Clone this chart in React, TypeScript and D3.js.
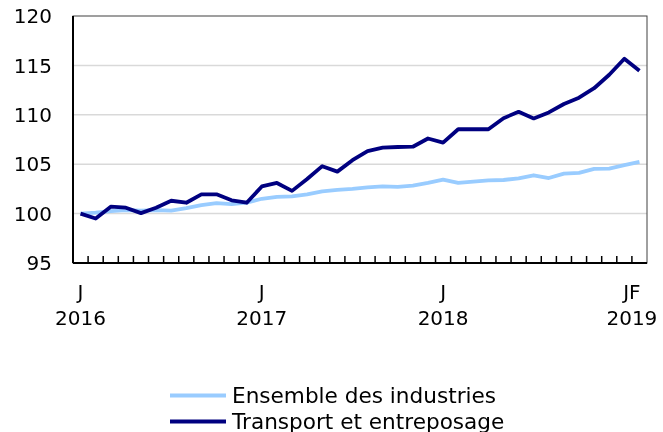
import * as d3 from "d3"
import { useEffect, useRef } from "react"

// monthly index, Jan 2016 = 100
const months = d3.range(38).map(i => `${2016 + Math.floor(i / 12)}-${(i % 12) + 1}`)

const ensemble = [
  100.0, 100.1, 100.25, 100.35, 100.3, 100.35, 100.3, 100.55, 100.85, 101.05,
  100.95, 101.1, 101.5, 101.7, 101.75, 101.95, 102.25, 102.4, 102.5, 102.65,
  102.76, 102.7, 102.83, 103.1, 103.44, 103.1, 103.23, 103.37, 103.4, 103.57,
  103.88, 103.6, 104.05, 104.12, 104.53, 104.56, 104.9, 105.24,
]

const transport = [
  100.0, 99.5, 100.7, 100.6, 100.05, 100.6, 101.3, 101.1, 101.95, 101.95,
  101.35, 101.1, 102.75, 103.1, 102.3, 103.5, 104.8, 104.25, 105.4, 106.33,
  106.67, 106.74, 106.77, 107.6, 107.18, 108.54, 108.54, 108.54, 109.66, 110.3,
  109.63, 110.24, 111.09, 111.73, 112.69, 114.05, 115.68, 114.46,
]

const yTicks = [95, 100, 105, 110, 115, 120]

const xLabels = [
  { from: 0, to: 0, top: "J", bottom: "2016" },
  { from: 12, to: 12, top: "J", bottom: "2017" },
  { from: 24, to: 24, top: "J", bottom: "2018" },
  { from: 36, to: 37, top: "JF", bottom: "2019" },
]

const series = [
  { name: "Ensemble des industries", values: ensemble, color: "#99ccff" },
  { name: "Transport et entreposage", values: transport, color: "#000080" },
]

export default function App() {
  const ref = useRef<SVGSVGElement>(null)

  useEffect(() => {
    const svg = d3.select(ref.current)
    svg.selectAll("*").remove()

    const margin = { top: 16, right: 16, bottom: 169, left: 73 }
    const width = 663 - margin.left - margin.right
    const height = 432 - margin.top - margin.bottom
    const font = "'DejaVu Sans', Verdana, sans-serif"
    const fs = 20

    const x = d3.scaleBand<string>().domain(months).range([0, width]).padding(0)
    const y = d3.scaleLinear().domain([95, 120]).range([height, 0])

    const g = svg.append("g").attr("transform", `translate(${margin.left},${margin.top})`)

    // grid
    g.selectAll(".grid").data(yTicks.filter(t => t !== 95 && t !== 120))
      .enter().append("line")
      .attr("x1", 0).attr("x2", width)
      .attr("y1", d => y(d)).attr("y2", d => y(d))
      .attr("stroke", "#d9d9d9").attr("stroke-width", 1.5)

    // frame
    g.append("rect")
      .attr("width", width).attr("height", height)
      .attr("fill", "none").attr("stroke", "#404040").attr("stroke-width", 1)

    // y labels
    g.selectAll(".ylab").data(yTicks)
      .enter().append("text")
      .attr("x", -21).attr("y", d => y(d)).attr("dy", "0.36em")
      .attr("text-anchor", "end")
      .attr("font-family", font).attr("font-size", fs)
      .text(d => d)

    // month ticks, pointing inside
    g.selectAll(".xtick").data(d3.range(1, months.length))
      .enter().append("line")
      .attr("x1", d => x(months[d])!).attr("x2", d => x(months[d])!)
      .attr("y1", height).attr("y2", height - 7)
      .attr("stroke", "#000").attr("stroke-width", 1.5)

    // axes
    g.append("line").attr("x1", 0).attr("x2", 0).attr("y1", 0).attr("y2", height)
      .attr("stroke", "#000").attr("stroke-width", 2)
    g.append("line").attr("x1", 0).attr("x2", width).attr("y1", height).attr("y2", height)
      .attr("stroke", "#000").attr("stroke-width", 2)

    // x labels
    const lab = g.selectAll(".xlab").data(xLabels).enter().append("g")
      .attr("transform", d => {
        const cx = (x(months[d.from])! + x(months[d.to])! + x.bandwidth()) / 2
        return `translate(${cx},${height})`
      })
    lab.append("text").attr("y", 36).attr("text-anchor", "middle")
      .attr("font-family", font).attr("font-size", fs).text(d => d.top)
    lab.append("text").attr("y", 62).attr("text-anchor", "middle")
      .attr("font-family", font).attr("font-size", fs).text(d => d.bottom)

    const line = d3.line<number>()
      .x((d, i) => x(months[i])! + x.bandwidth() / 2)
      .y(d => y(d))

    series.forEach(s => {
      g.append("path").datum(s.values)
        .attr("d", line)
        .attr("fill", "none")
        .attr("stroke", s.color)
        .attr("stroke-width", 3.8)
        .attr("stroke-linejoin", "round")
    })

    // legend
    const leg = svg.append("g").attr("transform", "translate(170,395.5)")
    series.forEach((s, i) => {
      leg.append("line").attr("x1", 0).attr("x2", 56)
        .attr("y1", i * 26).attr("y2", i * 26)
        .attr("stroke", s.color).attr("stroke-width", 4)
      leg.append("text").attr("x", 62).attr("y", i * 26 + 7)
        .attr("font-family", font).attr("font-size", 21.6).text(s.name)
    })
  }, [])

  return (
    <div style={{ position: "fixed", left: 0, top: 0 }}>
      <svg ref={ref} width={663} height={432} style={{ display: "block" }} />
    </div>
  )
}
